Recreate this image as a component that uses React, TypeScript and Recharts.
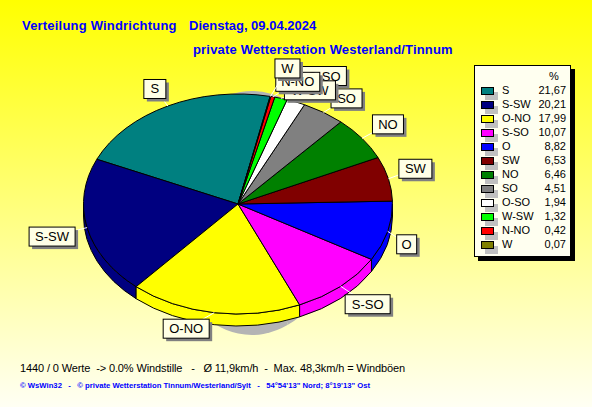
import { PieChart, Pie, Cell } from 'recharts';

const directions = ['S', 'S-SW', 'O-NO', 'S-SO', 'O', 'SW', 'NO', 'SO', 'O-SO', 'W-SW', 'N-NO', 'W'];
const shares = [21.67, 20.21, 17.99, 10.07, 8.82, 6.53, 6.46, 4.51, 1.94, 1.32, 0.42, 0.07];
const shareLabels = ['21,67', '20,21', '17,99', '10,07', '8,82', '6,53', '6,46', '4,51', '1,94', '1,32', '0,42', '0,07'];
const colors = ['#008080', '#000080', '#ffff00', '#ff00ff', '#0000ff', '#800000', '#008000', '#808080', '#ffffff', '#00ff00', '#ff0000', '#808000'];

const data = directions.map((name, i) => ({ name, value: shares[i] }));

// offset of each callout box from its point on the rim, and its width
const boxDx = [-13, -35, -28, 27, 19, 27, 26, 23, 28, 29, 25, 17];
const boxDy = [-17, 9, 16, 18, 13, -10, -14, -14, -26, -8, -15, -28];
const boxW = [22, 46, 46, 45, 20, 33, 31, 31, 45, 51, 44, 25];

const SQUASH = 0.712; // tilt of the pie
const DEPTH = 12;
const RAD = Math.PI / 180;
const FONT = '"Liberation Sans", Arial, sans-serif';

function wedgePath(cx: number, cy: number, rx: number, ry: number, a0: number, a1: number) {
  const large = a1 - a0 > 180 ? 1 : 0;
  const x0 = cx + rx * Math.cos(a0 * RAD);
  const y0 = cy - ry * Math.sin(a0 * RAD);
  const x1 = cx + rx * Math.cos(a1 * RAD);
  const y1 = cy - ry * Math.sin(a1 * RAD);
  return `M${cx},${cy} L${x0},${y0} A${rx},${ry} 0 ${large} 0 ${x1},${y1} Z`;
}

function TopShape(props: any) {
  const { cx, cy, outerRadius: r, startAngle, endAngle, fill } = props;
  return <path d={wedgePath(cx, cy, r, r * SQUASH, startAngle, endAngle)} fill={fill} stroke="#000" strokeWidth={1} />;
}

// side wall, only the part on the front half of the pie shows
function WallShape(props: any) {
  const { cx, cy, outerRadius: r, startAngle, endAngle, fill } = props;
  const ry = r * SQUASH;
  const parts: any[] = [];
  [0, 360].forEach((turn) => {
    const a0 = Math.max(startAngle, 180 + turn);
    const a1 = Math.min(endAngle, 360 + turn);
    if (a1 <= a0) return;
    const x0 = cx + r * Math.cos(a0 * RAD);
    const y0 = cy - ry * Math.sin(a0 * RAD);
    const x1 = cx + r * Math.cos(a1 * RAD);
    const y1 = cy - ry * Math.sin(a1 * RAD);
    const d = `M${x0},${y0} A${r},${ry} 0 0 0 ${x1},${y1} L${x1},${y1 + DEPTH} A${r},${ry} 0 0 1 ${x0},${y0 + DEPTH} Z`;
    parts.push(<path key={turn} d={d} fill={fill} stroke="#000" strokeWidth={1} />);
  });
  return <g>{parts}</g>;
}

function ShadowShape(props: any) {
  const { cx, cy, startAngle, endAngle } = props;
  return <path d={wedgePath(cx + 14, cy + 9, 90, 122, startAngle, endAngle)} fill="#b4b4b4" />;
}

function CalloutLabel(props: any) {
  const { cx, cy, midAngle, outerRadius, index, name } = props;
  const x = cx + outerRadius * Math.cos(midAngle * RAD);
  const y = cy - outerRadius * SQUASH * Math.sin(midAngle * RAD);
  const w = boxW[index];
  const h = 19;
  const bx = x + boxDx[index] - w / 2;
  const by = y + boxDy[index] - h / 2;
  return (
    <g>
      <line x1={x} y1={y} x2={x + boxDx[index]} y2={y + boxDy[index]} stroke="#fff" strokeWidth={1} />
      <rect x={bx + 3} y={by + 3} width={w} height={h} fill="#808080" />
      <rect x={bx} y={by} width={w} height={h} fill="#ffffe6" stroke="#000" strokeWidth={1} />
      <text x={bx + w / 2} y={by + 14} textAnchor="middle" fontFamily={FONT} fontSize={13} fill="#000">
        {name}
      </text>
    </g>
  );
}

const textStyle = (left: number, top: number, size: number, color: string, bold = false, spacing = 0): React.CSSProperties => ({
  position: 'absolute',
  left,
  top,
  fontFamily: FONT,
  fontSize: size,
  lineHeight: `${size + 2}px`,
  letterSpacing: spacing,
  color,
  fontWeight: bold ? 'bold' : 'normal',
  whiteSpace: 'pre',
});

function LegendBox() {
  return (
    <>
      <div style={{ position: 'absolute', left: 478, top: 69, width: 97, height: 192, background: '#000' }} />
      <div style={{ position: 'absolute', left: 474, top: 65, width: 95, height: 190, background: '#fffff0', border: '1px solid #000' }}>
        <div style={textStyle(74, 4, 11, '#000')}>%</div>
        {directions.map((name, i) => (
          <div key={name}>
            <div style={{ position: 'absolute', left: 10, top: 26 + i * 14, width: 13, height: 8, background: '#c0c0c0' }} />
            <div style={{ position: 'absolute', left: 6, top: 21 + i * 14, width: 11, height: 6, background: colors[i], border: '1px solid #000' }} />
            <div style={textStyle(27, 18 + i * 14, 11, '#000')}>{name}</div>
            <div style={{ ...textStyle(49, 18 + i * 14, 11, '#000'), width: 42, textAlign: 'right' }}>{shareLabels[i]}</div>
          </div>
        ))}
      </div>
    </>
  );
}

export default function App() {
  const pieProps = {
    data,
    dataKey: 'value',
    nameKey: 'name',
    cx: 238,
    cy: 204,
    outerRadius: 154.5,
    startAngle: 78,
    endAngle: 438,
    isAnimationActive: false,
  };
  return (
    <div
      style={{
        position: 'fixed',
        left: 0,
        top: 0,
        width: 592,
        height: 407,
        overflow: 'hidden',
        background: 'linear-gradient(#ffff00, #fffff4)',
      }}
    >
      <div style={textStyle(22, 18, 13, '#0000ff', true, 0.2)}>Verteilung Windrichtung</div>
      <div style={textStyle(189, 18, 13, '#0000ff', true)}>Dienstag, 09.04.2024</div>
      <div style={textStyle(193, 42, 13, '#0000ff', true, 0.18)}>private Wetterstation Westerland/Tinnum</div>

      <div style={{ position: 'absolute', left: 0, top: 0 }}>
        <PieChart width={592} height={407} margin={{ top: 0, right: 0, bottom: 0, left: 0 }}>
          <Pie {...pieProps} shape={ShadowShape} stroke="none" />
          <Pie {...pieProps} shape={WallShape}>
            {colors.map((c) => (
              <Cell key={c} fill={c} />
            ))}
          </Pie>
          <Pie {...pieProps} shape={TopShape} label={CalloutLabel} labelLine={false}>
            {colors.map((c) => (
              <Cell key={c} fill={c} />
            ))}
          </Pie>
        </PieChart>
      </div>

      <LegendBox />

      <div style={textStyle(20, 362, 11, '#000', false, -0.12)}>{'1440 / 0 Werte  -> 0.0% Windstille   -   Ø 11,9km/h  -  Max. 48,3km/h = Windböen'}</div>
      <div style={textStyle(20, 381, 7.7, '#0000ff', true)}>
        {'© WsWin32   -   © private Wetterstation Tinnum/Westerland/Sylt   -   54°54\'13" Nord; 8°19\'13" Ost'}
      </div>
    </div>
  );
}
